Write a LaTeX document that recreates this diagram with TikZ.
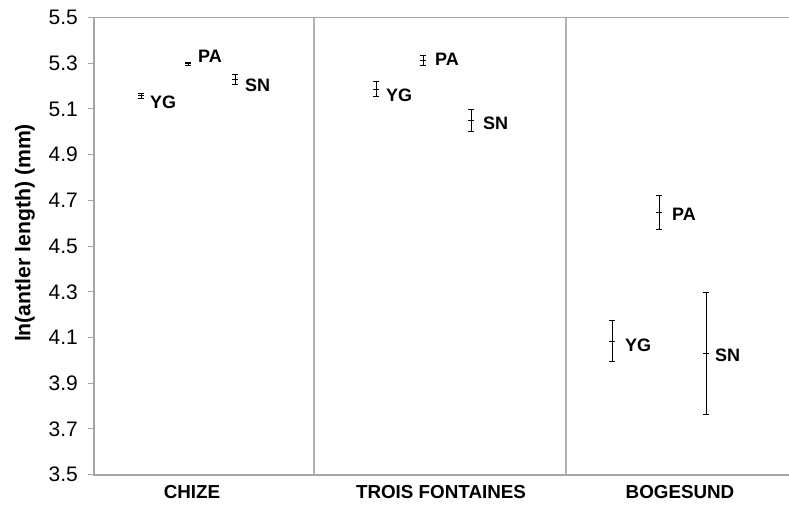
\documentclass[tikz,border=0pt]{standalone}
\usepackage{fontspec}
\setmainfont{Liberation Sans}
\usetikzlibrary{positioning}

\begin{document}
\begin{tikzpicture}[x=1pt, y=1pt,
  axisline/.style={draw=black!35, line width=1.8pt},
  divline/.style={draw=black!30, line width=1.3pt},
  errbar/.style={draw=black, line width=1pt},
  ticklab/.style={anchor=east, inner sep=0pt, font=\fontsize{21}{24}\selectfont},
  catlab/.style={inner sep=0pt, font=\fontsize{18.8}{22}\selectfont\bfseries},
  grplab/.style={inner sep=0pt, font=\fontsize{18}{21}\selectfont\bfseries}]
\useasboundingbox (0,0) rectangle (789,504);

\node[rotate=90, inner sep=0pt, font=\fontsize{21.2}{25}\selectfont\bfseries] (ytitle) at (25,271) {ln(antler length) (mm)};

\node[catlab] (chize) at (192,12) {CHIZE};
\node[catlab] (trois) at (441,12) {TROIS FONTAINES};
\node[catlab] (boge) at (680,12) {BOGESUND};

\begin{scope}[y=228.5pt, yshift=-770.35pt]
% frame and site dividers
\draw[axisline] (789,5.5) -- (94,5.5) -- (94,3.5) -- (789,3.5);
\draw[divline] (314,5.5) -- (314,3.5);
\draw[divline] (566,5.5) -- (566,3.5);

% ticks
\draw[axisline, line width=1pt] (88,3.5) -- (94,3.5) (88,3.7) -- (94,3.7) (88,3.9) -- (94,3.9)
  (88,4.1) -- (94,4.1) (88,4.3) -- (94,4.3) (88,4.5) -- (94,4.5) (88,4.7) -- (94,4.7)
  (88,4.9) -- (94,4.9) (88,5.1) -- (94,5.1) (88,5.3) -- (94,5.3) (88,5.5) -- (94,5.5);

\node[ticklab] (t35) at (78,3.5) {3.5};
\node[ticklab] (t37) at (78,3.7) {3.7};
\node[ticklab] (t39) at (78,3.9) {3.9};
\node[ticklab] (t41) at (78,4.1) {4.1};
\node[ticklab] (t43) at (78,4.3) {4.3};
\node[ticklab] (t45) at (78,4.5) {4.5};
\node[ticklab] (t47) at (78,4.7) {4.7};
\node[ticklab] (t49) at (78,4.9) {4.9};
\node[ticklab] (t51) at (78,5.1) {5.1};
\node[ticklab] (t53) at (78,5.3) {5.3};
\node[ticklab] (t55) at (78,5.5) {5.5};

% CHIZE
\coordinate (chYG) at (141,5.158);
\coordinate (chPA) at (188,5.298);
\coordinate (chSN) at (235,5.230);
\draw[errbar] (138,5.147) -- (144,5.147) (141,5.147) -- (141,5.169) (138,5.169) -- (144,5.169) (138,5.158) -- (144,5.158);
\draw[errbar] (185,5.291) -- (191,5.291) (188,5.291) -- (188,5.305) (185,5.305) -- (191,5.305) (185,5.298) -- (191,5.298);
\draw[errbar] (232,5.208) -- (238,5.208) (235,5.208) -- (235,5.252) (232,5.252) -- (238,5.252) (232,5.230) -- (238,5.230);
\node[grplab, right=9pt of chYG, yshift=-7pt] (chYGlab) {YG};
\node[grplab, right=10pt of chPA, yshift=7pt] (chPAlab) {PA};
\node[grplab, right=10pt of chSN, yshift=-6pt] (chSNlab) {SN};

% TROIS FONTAINES
\coordinate (tfYG) at (376,5.187);
\coordinate (tfPA) at (423,5.314);
\coordinate (tfSN) at (471,5.051);
\draw[errbar] (373,5.155) -- (379,5.155) (376,5.155) -- (376,5.219) (373,5.219) -- (379,5.219) (373,5.187) -- (379,5.187);
\draw[errbar] (420,5.292) -- (426,5.292) (423,5.292) -- (423,5.336) (420,5.336) -- (426,5.336) (420,5.314) -- (426,5.314);
\draw[errbar] (468,5.003) -- (474,5.003) (471,5.003) -- (471,5.099) (468,5.099) -- (474,5.099) (468,5.051) -- (474,5.051);
\node[grplab, right=10pt of tfYG, yshift=-6pt] (tfYGlab) {YG};
\node[grplab, right=12pt of tfPA, yshift=1pt] (tfPAlab) {PA};
\node[grplab, right=12pt of tfSN, yshift=-3pt] (tfSNlab) {SN};

% BOGESUND
\coordinate (bgYG) at (612,4.084);
\coordinate (bgPA) at (659,4.648);
\coordinate (bgSN) at (706,4.031);
\draw[errbar] (609,3.995) -- (615,3.995) (612,3.995) -- (612,4.173) (609,4.173) -- (615,4.173) (609,4.084) -- (615,4.084);
\draw[errbar] (656,4.574) -- (662,4.574) (659,4.574) -- (659,4.722) (656,4.722) -- (662,4.722) (656,4.648) -- (662,4.648);
\draw[errbar] (703,3.765) -- (709,3.765) (706,3.765) -- (706,4.297) (703,4.297) -- (709,4.297) (703,4.031) -- (709,4.031);
\node[grplab, right=13pt of bgYG, yshift=-4pt] (bgYGlab) {YG};
\node[grplab, right=13pt of bgPA, yshift=-2pt] (bgPAlab) {PA};
\node[grplab, right=9pt of bgSN, yshift=-2pt] (bgSNlab) {SN};
\end{scope}
\end{tikzpicture}
\end{document}
